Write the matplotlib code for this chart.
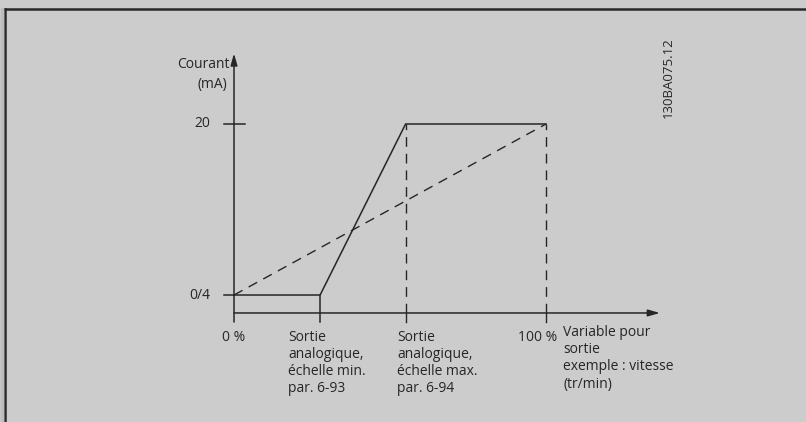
import matplotlib
matplotlib.use("Agg")
import matplotlib.pyplot as plt
from matplotlib.lines import Line2D

plt.rcParams['font.family'] = ['Open Sans', 'DejaVu Sans']

# x in % of output variable, y in mA
x_pts = [0, 27.6, 55.0, 100]           # 0 %, échelle min., échelle max., 100 %
y_solid = [4, 4, 20, 20]               # courant de sortie
x_dash = [0, 100]
y_dash = [4, 20]
y_levels = [4, 20]
y_labels = ["0/4", "20"]
x_labels = ["0 %",
            "Sortie\nanalogique,\néchelle min.\npar. 6-93",
            "Sortie\nanalogique,\néchelle max.\npar. 6-94",
            "100 %"]
x_title = "Variable pour\nsortie\nexemple : vitesse\n(tr/min)"
doc_id = "130BA075.12"

bg = "#cccccc"
ink = "#262626"

fig = plt.figure(figsize=(8.06, 4.22), dpi=100, facecolor=bg)
ax = fig.add_axes([0, 0, 1, 1])
ax.set_facecolor(bg)
ax.set_xlim(-75, 183.33)
ax.set_ylim(-7.88, 31.6)
ax.axis("off")

y_axis = 2.32      # height of the x axis
y_tick = 1.47      # bottom of ticks below the x axis
x_tip = 136.5
y_tip = 26.6

# frame of the figure
fig.add_artist(Line2D([5 / 806, 5 / 806], [0, 1 - 9 / 422], color="#2a2a2a", lw=1.8))
fig.add_artist(Line2D([5 / 806, 1], [1 - 9 / 422, 1 - 9 / 422], color="#2a2a2a", lw=1.8))
fig.add_artist(Line2D([1.5 / 806, 1.5 / 806], [0, 1 - 9 / 422], color="#bdbdbd", lw=2.5))

# axes with arrows
ax.annotate("", xy=(x_tip, y_axis), xytext=(0, y_axis),
            arrowprops=dict(arrowstyle="-|>,head_length=0.7,head_width=0.2",
                            color=ink, lw=1.1, shrinkA=0, shrinkB=0))
ax.annotate("", xy=(0, y_tip), xytext=(0, y_tick),
            arrowprops=dict(arrowstyle="-|>,head_length=0.7,head_width=0.2",
                            color=ink, lw=1.1, shrinkA=0, shrinkB=0))

# y ticks
ax.plot([-3.2, 3.5], [y_levels[1], y_levels[1]], color=ink, lw=1.1)
ax.plot([-3.2, 0], [y_levels[0], y_levels[0]], color=ink, lw=1.1)

# curves
ax.plot(x_pts, y_solid, color=ink, lw=1.1, solid_joinstyle="miter")
ax.plot(x_dash, y_dash, color=ink, lw=1.0, dashes=(7, 5))

# vertical marks
ax.plot([x_pts[1], x_pts[1]], [y_tick, y_solid[1]], color=ink, lw=1.1)
for xv in x_pts[2:]:
    ax.plot([xv, xv], [y_axis, 20], color=ink, lw=1.0, dashes=(7, 5))
    ax.plot([xv, xv], [y_tick, y_axis], color=ink, lw=1.0)

fs = 10
# y labels
for yv, lab in zip(y_levels, y_labels):
    ax.text(-7.5, yv, lab, ha="right", va="center", fontsize=fs, color=ink)
ax.text(-1.3, 25.6, "Courant", ha="right", va="center", fontsize=fs, color=ink)
ax.text(-2.3, 23.7, "(mA)", ha="right", va="center", fontsize=fs, color=ink)

# x labels
ax.text(0, 0.75, x_labels[0], ha="center", va="top", fontsize=fs, color=ink)
ax.text(x_pts[1] - 10.3, 0.75, x_labels[1], ha="left", va="top", fontsize=fs,
        color=ink, linespacing=1.2)
ax.text(x_pts[2] - 2.6, 0.75, x_labels[2], ha="left", va="top", fontsize=fs,
        color=ink, linespacing=1.2)
ax.text(x_pts[3] + 3.5, 0.75, x_labels[3], ha="right", va="top", fontsize=fs, color=ink)
ax.text(105.5, 1.2, x_title, ha="left", va="top", fontsize=fs, color=ink,
        linespacing=1.2)

ax.text(139.3, 24.3, doc_id, ha="center", va="center", rotation=90,
        fontsize=fs - 0.5, color=ink)

fig.savefig("out.png", dpi=100, facecolor=bg)
